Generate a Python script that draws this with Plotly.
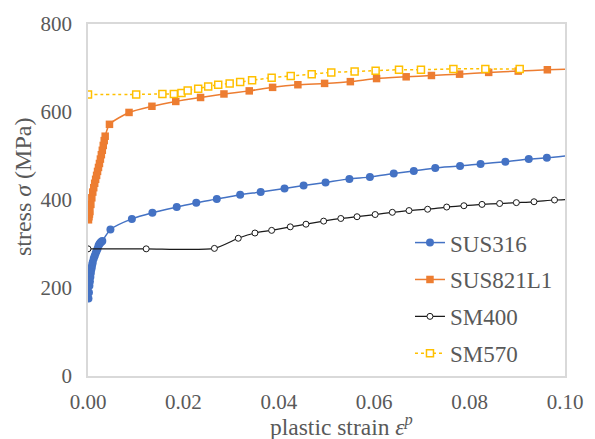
import plotly.graph_objects as go

# ---- data ----
sus316_strain = [0.0001, 0.0002, 0.0003, 0.0004, 0.0005, 0.0006, 0.0007, 0.0008, 0.0009, 0.0010,
                 0.0012, 0.0014, 0.0016, 0.0018, 0.0020, 0.0022, 0.0024, 0.0026, 0.0028, 0.0030,
                 0.0047, 0.0092, 0.0135, 0.0186, 0.0227, 0.0270, 0.0319, 0.0362, 0.0412, 0.0452,
                 0.0498, 0.0548, 0.0591, 0.0641, 0.0683, 0.0728, 0.0780, 0.0823, 0.0875, 0.0924,
                 0.0962, 0.1015]
sus316_stress = [176, 190, 205, 215, 225, 234, 242, 248, 254, 259,
                 267, 273, 279, 284, 289, 296, 300, 303, 305, 307,
                 333, 357, 371, 384, 394, 402, 412, 418, 426, 433,
                 440, 448, 452, 460, 466, 473, 477, 482, 487, 493,
                 496, 502]

sus821_strain = [0.0001, 0.0002, 0.0003, 0.0004, 0.0006, 0.0008, 0.0010, 0.0012, 0.0014, 0.0016,
                 0.0018, 0.0020, 0.0022, 0.0024, 0.0026, 0.0028, 0.0030, 0.0032, 0.0034, 0.0036,
                 0.0045, 0.0086, 0.0134, 0.0184, 0.0236, 0.0285, 0.0338, 0.0387, 0.0440, 0.0496,
                 0.0550, 0.0605, 0.0667, 0.0720, 0.0779, 0.0840, 0.0902, 0.0963, 0.1020]
sus821_stress = [355, 362, 368, 374, 390, 405, 418, 428, 438, 447,
                 456, 465, 474, 483, 493, 503, 513, 524, 535, 545,
                 572, 599, 613, 624, 633, 641, 648, 656, 662, 665,
                 669, 676, 680, 683, 686, 690, 693, 696, 698]

sm400_strain = [0.0, 0.0122, 0.0265, 0.0315, 0.0350, 0.0385, 0.0424, 0.0457, 0.0494, 0.0530,
                0.0564, 0.0602, 0.0638, 0.0673, 0.0712, 0.0752, 0.0788, 0.0826, 0.0863, 0.0898,
                0.0935, 0.0978, 0.1020]
sm400_stress = [289, 289, 290, 313, 325, 331, 339, 345, 352, 358,
                362, 367, 372, 376, 379, 384, 387, 390, 392, 394,
                396, 400, 402]

sm570_strain = [0.0, 0.0101, 0.0156, 0.0180, 0.0196, 0.0209, 0.0231, 0.0252, 0.0273, 0.0297,
                0.0319, 0.0344, 0.0385, 0.0425, 0.0469, 0.0510, 0.0559, 0.0603, 0.0652, 0.0698,
                0.0766, 0.0833, 0.0905]
sm570_stress = [640, 640, 641, 641, 643, 649, 653, 658, 662, 665,
                668, 672, 678, 682, 686, 690, 692, 694, 696, 696,
                698, 698, 698]

x_ticks = [0.00, 0.02, 0.04, 0.06, 0.08, 0.10]
x_tick_text = ["0.00", "0.02", "0.04", "0.06", "0.08", "0.10"]
y_ticks = [0, 200, 400, 600, 800]

FONT = "Liberation Serif"
TXT = "#595959"

fig = go.Figure()
fig.add_trace(go.Scatter(
    x=sus316_strain, y=sus316_stress, name="SUS316", mode="lines+markers",
    line=dict(color="#4472C4", width=1.5, shape="spline", smoothing=0.6),
    marker=dict(symbol="circle", size=8, color="#4472C4"), legendgroup="a"))
fig.add_trace(go.Scatter(
    x=sus821_strain, y=sus821_stress, name="SUS821L1", mode="lines+markers",
    line=dict(color="#ED7D31", width=1.5, shape="spline", smoothing=0.6),
    marker=dict(symbol="square", size=7.5, color="#ED7D31"), legendgroup="b"))
fig.add_trace(go.Scatter(
    x=sm400_strain, y=sm400_stress, name="SM400", mode="lines+markers",
    line=dict(color="#1a1a1a", width=1.25, shape="spline", smoothing=0.6),
    marker=dict(symbol="circle", size=6, color="white", line=dict(color="#1a1a1a", width=1)),
    legendgroup="c"))
fig.add_trace(go.Scatter(
    x=sm570_strain, y=sm570_stress, name="SM570", mode="lines+markers",
    line=dict(color="#FFC000", width=1.5, dash="dot", shape="spline", smoothing=0.6),
    marker=dict(symbol="square", size=7, color="white", line=dict(color="#FFC000", width=1.5)),
    legendgroup="d"))

fig.update_layout(
    width=595, height=439,
    margin=dict(l=87.5, r=27, t=20, b=63),
    paper_bgcolor="white", plot_bgcolor="white",
    font=dict(family=FONT, color=TXT, size=21),
    showlegend=True,
    legend=dict(x=0.675, y=0.44, xanchor="left", yanchor="top",
                font=dict(family=FONT, size=23, color=TXT),
                bgcolor="rgba(0,0,0,0)", tracegroupgap=4, itemwidth=30),
    xaxis=dict(range=[0, 0.1], tickvals=x_ticks, ticktext=x_tick_text,
               showgrid=False, zeroline=False, showline=True, linecolor="#d9d9d9",
               linewidth=1.5, mirror=True, ticks="", ticklabelstandoff=6,
               tickfont=dict(family=FONT, size=21, color=TXT)),
    yaxis=dict(range=[0, 800], tickvals=y_ticks,
               showgrid=False, zeroline=False, showline=True, linecolor="#d9d9d9",
               linewidth=1.5, mirror=True, ticks="", ticklabelstandoff=10,
               tickfont=dict(family=FONT, size=21, color=TXT)),
    annotations=[
        dict(text="stress <i>σ</i> (MPa)", xref="paper", yref="paper",
             x=-0.136, y=0.537, xanchor="center", yanchor="middle", textangle=-90,
             showarrow=False, font=dict(family=FONT, size=24, color=TXT)),
        dict(text="plastic strain <i>ε</i><sup><i>p</i></sup>", xref="paper", yref="paper",
             x=0.532, y=-0.138, xanchor="center", yanchor="middle",
             showarrow=False, font=dict(family=FONT, size=23.5, color=TXT)),
    ],
)

fig.write_html("out.html")
